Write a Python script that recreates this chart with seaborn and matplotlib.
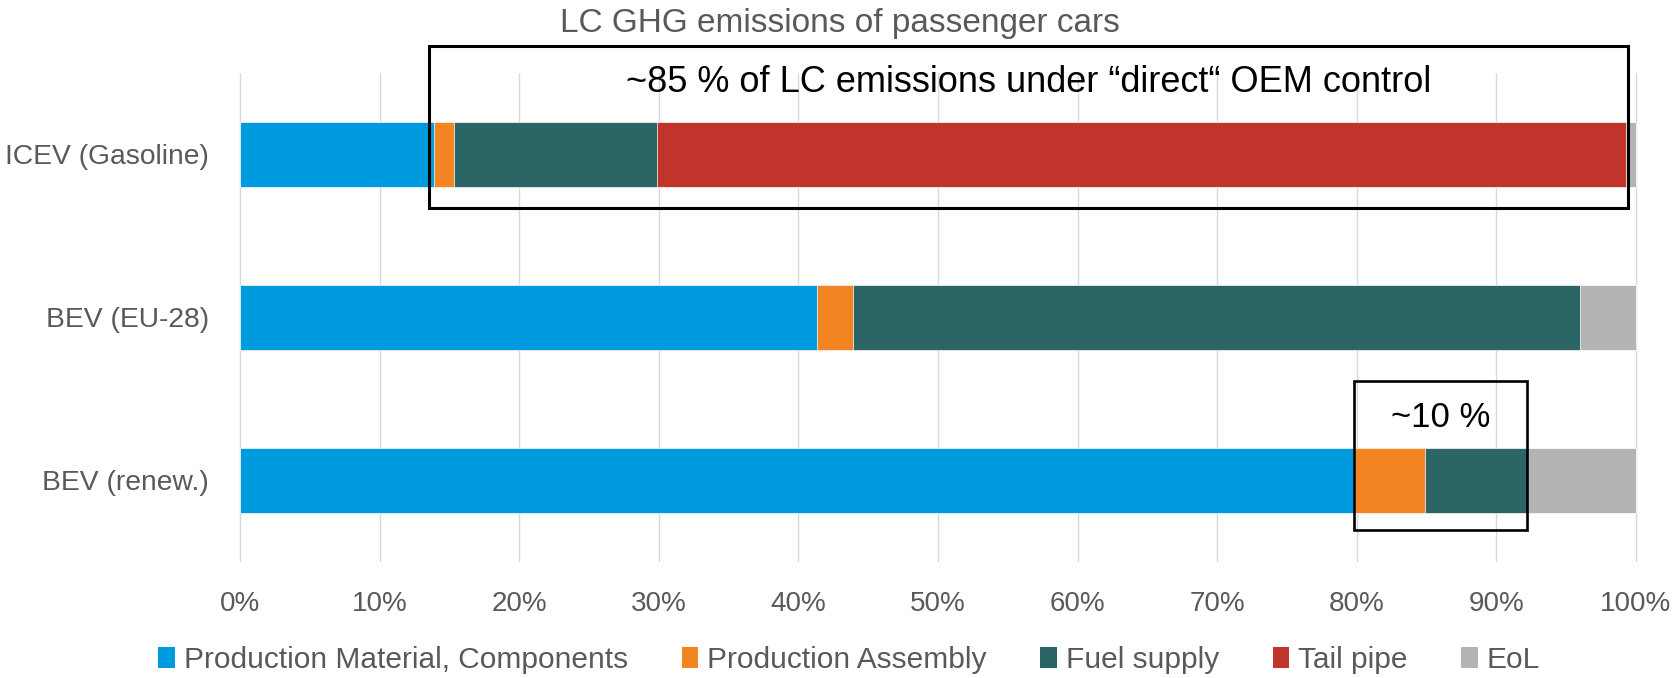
import numpy as np
import pandas as pd
import matplotlib.pyplot as plt
import seaborn as sns
from matplotlib.patches import Patch, Rectangle

# ---------------------------------------------------------
# Data (shares of life-cycle GHG emissions, in %)
# ---------------------------------------------------------
categories = ["ICEV (Gasoline)", "BEV (EU-28)", "BEV (renew.)"]
segments = ["Production Material, Components", "Production Assembly",
            "Fuel supply", "Tail pipe", "EoL"]
prod_material = [13.9, 41.3, 79.9]
prod_assembly = [1.4, 2.6, 5.0]
fuel_supply = [14.6, 52.1, 7.3]
tail_pipe = [69.4, 0.0, 0.0]
eol = [0.7, 4.0, 7.8]
x_ticks = [0, 10, 20, 30, 40, 50, 60, 70, 80, 90, 100]
x_tick_labels = [f"{t}%" for t in x_ticks]

colors = ["#009BDE", "#F28522", "#2B6566", "#C0342B", "#B4B4B4"]
text_grey = "#595959"

sns.set_theme(style="white")
plt.rcParams["font.family"] = ["Liberation Sans", "DejaVu Sans"]
narrow = ["Liberation Sans Narrow", "Liberation Sans", "DejaVu Sans"]

df = pd.DataFrame({"category": categories})
values = [prod_material, prod_assembly, fuel_supply, tail_pipe, eol]
cum = np.cumsum(np.array(values), axis=0)
for i, seg in enumerate(segments):
    df[seg] = cum[i]

fig = plt.figure(figsize=(16.76, 6.78), dpi=100)
ax = fig.add_axes([238 / 1676, 1 - 561.7 / 678, 1400 / 1676, 489 / 678])

# stacked bars: draw cumulative totals from the outermost segment inwards
for i in reversed(range(len(segments))):
    sns.barplot(data=df, x=segments[i], y="category", orient="h",
                color=colors[i], saturation=1, width=0.4,
                edgecolor="white", linewidth=0.5, ax=ax)

ax.set_xlim(-0.15, 100.15)
ax.set_ylim(2.5, -0.5)
ax.set_xticks(x_ticks)
ax.set_xticklabels(x_tick_labels)
ax.set_xlabel("")
ax.set_ylabel("")
ax.grid(axis="x", color="#D9D9D9", linewidth=1.0)
ax.grid(axis="y", visible=False)
ax.set_axisbelow(True)
for s in ax.spines.values():
    s.set_visible(False)
ax.tick_params(axis="x", length=0, labelsize=20, labelcolor=text_grey, pad=21)
ax.tick_params(axis="y", length=0, labelsize=20.3, labelcolor=text_grey, pad=21)

# annotation boxes around the OEM-controlled shares
x0 = cum[0][0] - 0.35
x1 = cum[3][0] + 0.1
ax.add_patch(Rectangle((x0, -0.666), x1 - x0, 0.998, fill=False,
                       edgecolor="black", linewidth=2.2, clip_on=False, zorder=5))
ax.text((x0 + x1) / 2, -0.38, "~85 % of LC emissions under \u201cdirect\u201c OEM control",
        ha="center", va="baseline", fontsize=26, color="black", family=narrow)

x0 = cum[0][2] - 0.1
x1 = cum[2][2]
ax.add_patch(Rectangle((x0, 1.39), x1 - x0, 0.916, fill=False,
                       edgecolor="black", linewidth=1.9, clip_on=False, zorder=5))
ax.text((x0 + x1) / 2, 1.672, "~10 %", ha="center", va="baseline",
        fontsize=25, color="black")

fig.text(0.501, 1 - 31.7 / 678, "LC GHG emissions of passenger cars",
         ha="center", va="baseline", fontsize=24, color=text_grey)

handles = [Patch(facecolor=c, edgecolor="none", label=s) for c, s in zip(colors, segments)]
fig.legend(handles=handles, loc="center", bbox_to_anchor=(0.5066, 1 - 660 / 678),
           ncol=5, frameon=False, fontsize=21.5, handlelength=0.55, handleheight=0.7,
           handletextpad=0.3, columnspacing=1.8, labelcolor=text_grey)

fig.savefig("out.png", dpi=100)
